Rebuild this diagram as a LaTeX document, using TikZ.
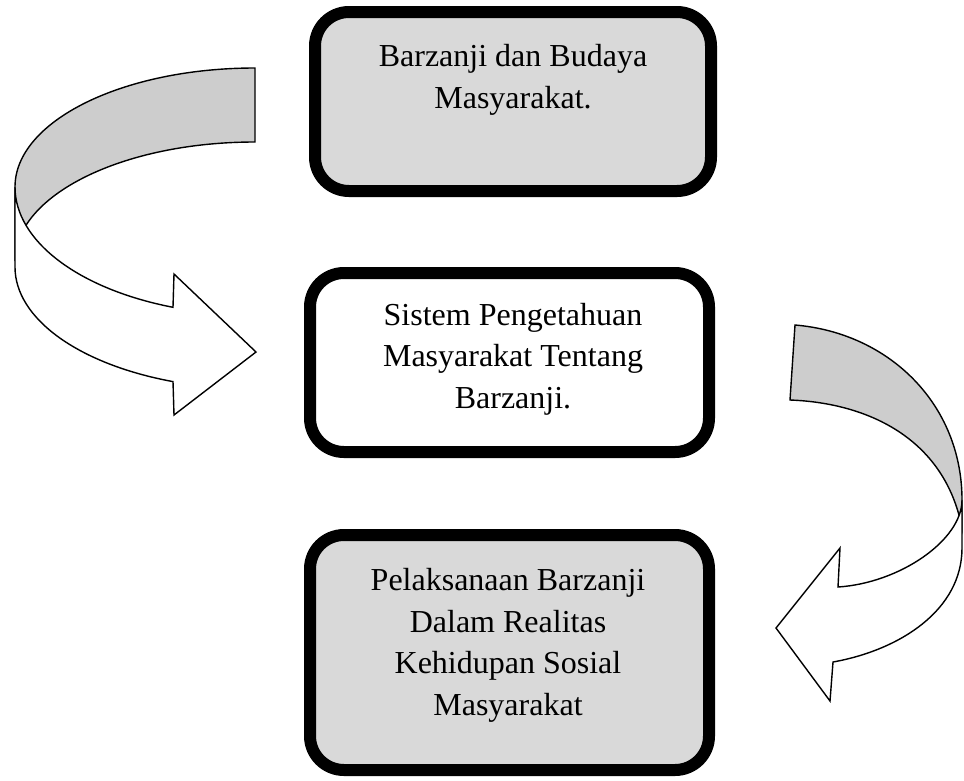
\documentclass[tikz,border=0pt]{standalone}
\usepackage{fontspec}
\setmainfont{Liberation Serif}
\definecolor{boxgrey}{RGB}{217,217,217}
\definecolor{bandgrey}{RGB}{205,205,205}
\begin{document}
\begin{tikzpicture}[x=1pt,y=-1pt,
  box/.style={draw=black, line width=12pt, rounded corners=34pt, rectangle, inner sep=0pt},
  txt/.style={anchor=base, align=center, inner sep=0pt, font=\fontsize{32}{41.5}\selectfont},
  band/.style={draw=black, line width=1.4pt, line join=miter, fill=bandgrey},
  front/.style={draw=black, line width=1.4pt, line join=miter, fill=white}]
\useasboundingbox (0,0) rectangle (964,780);
% boxes
\node[box, fill=boxgrey, minimum width=396pt, minimum height=179pt] (b1) at (513,101.5) {};
\node[box, fill=white, minimum width=399pt, minimum height=179pt] (b2) at (509.5,362.5) {};
\node[box, fill=boxgrey, minimum width=399pt, minimum height=235pt] (b3) at (509.5,652.5) {};
% text (anchor base = baseline of the last line)
\node[txt] (t1) at (513,108) {Barzanji dan Budaya\\Masyarakat.};
\node[txt] (t2) at (513,408) {Sistem Pengetahuan\\Masyarakat Tentang\\Barzanji.};
\node[txt] (t3) at (508,715) {Pelaksanaan Barzanji\\Dalam Realitas\\Kehidupan Sosial\\Masyarakat};
% left curved arrow
\draw[band] (255,68) .. controls (122.4,68) and (15,121.3) .. (15,187) -- (15,261)
  .. controls (15,195.3) and (122.4,142) .. (255,142) -- cycle;
\draw[front] (15,187) .. controls (15,240.8) and (78.1,288.9) .. (173,307.3)
  -- (174,274) -- (256,352) -- (174,415) -- (173,381.6)
  .. controls (78.1,364.1) and (15,318.3) .. (15,267) -- cycle;
% right curved arrow
\draw[band] (795,325) .. controls (890,333) and (962,405) .. (962,500) -- (962,528)
  .. controls (945,440) and (870,403) .. (790,400) -- cycle;
\draw[front] (962,500) -- (962,548) .. controls (962,610) and (900,650) .. (833,662)
  -- (830,701) -- (776,628) -- (840,548) -- (838,587)
  .. controls (900,583) and (962,540) .. (962,500) -- cycle;
\end{tikzpicture}
\end{document}
